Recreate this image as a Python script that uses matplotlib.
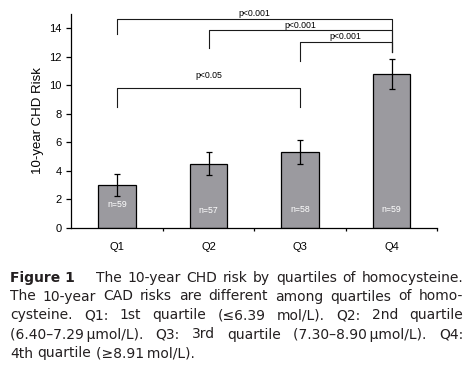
import matplotlib.pyplot as plt
import numpy as np

# chart data
quartiles = ['Q1', 'Q2', 'Q3', 'Q4']
risk = [3.0, 4.5, 5.3, 10.8]
risk_err = [0.8, 0.8, 0.85, 1.05]
n_labels = ['n=59', 'n=57', 'n=58', 'n=59']
n_label_y = [1.6, 1.2, 1.25, 1.25]

# significance brackets: from, to, bar height, left leg end, label, label height
br_from = [0, 0, 1, 2]
br_to = [2, 3, 3, 3]
br_height = [9.8, 14.65, 13.87, 13.0]
br_leg = [8.5, 13.6, 12.63, 11.7]
br_right_leg = [8.5, 12.3, 12.3, 12.3]
br_text = ['p<0.05', 'p<0.001', 'p<0.001', 'p<0.001']
br_text_y = [10.7, 15.05, 14.2, 13.4]

caption = [
    'The 10-year CHD risk by quartiles of homocysteine.',
    'The 10-year CAD risks are different among quartiles of homo-',
    'cysteine. Q1: 1st quartile (\u22646.39 mol/L). Q2: 2nd quartile',
    '(6.40\u20137.29\u2009\u03bcmol/L). Q3: 3rd quartile (7.30\u20138.90\u2009\u03bcmol/L). Q4:',
    '4th quartile (\u22658.91\u2009mol/L).',
]

W, H = 473, 374
fig = plt.figure(figsize=(W / 100, H / 100), dpi=100)
ax = fig.add_axes([71.3 / W, 1 - 227.7 / H, (437.3 - 71.3) / W, (227.7 - 14) / H])

cfont = 'Liberation Sans'
x = np.arange(len(quartiles))
ax.bar(x, risk, width=0.41, color='#9b9a9f', edgecolor='black', linewidth=0.9, zorder=2)
ax.errorbar(x, risk, yerr=risk_err, fmt='none', ecolor='black', elinewidth=0.9,
            capsize=2.3, capthick=0.9, zorder=3)
for xi, lab, yy in zip(x, n_labels, n_label_y):
    ax.text(xi, yy, lab, color='white', ha='center', va='center', fontsize=6.3,
            family=cfont, zorder=4)

for a, b, h, l1, l2, t, ty in zip(br_from, br_to, br_height, br_leg, br_right_leg,
                                  br_text, br_text_y):
    ax.plot([a, a, b, b], [l1, h, h, l2], color='#1a1a1a', lw=0.8, clip_on=False)
    ax.text((a + b) / 2, ty, t, ha='center', va='center', fontsize=6.3, family=cfont)

ax.set_xlim(-0.5, 3.5)
ax.set_ylim(0, 15)
ax.set_yticks(np.arange(0, 15, 2))
ax.set_xticks(x)
ax.set_xticklabels(quartiles, family=cfont, fontsize=8)
ax.set_xticks([0.5, 1.5, 2.5, 3.5], minor=True)
ax.tick_params(axis='x', which='major', length=0, pad=10)
ax.tick_params(axis='x', which='minor', length=2.5, width=0.9, direction='out')
ax.tick_params(axis='y', length=3.5, width=0.9, direction='out', labelsize=8)
for lab in ax.get_yticklabels():
    lab.set_family(cfont)
ax.set_ylabel('10-year CHD Risk', family=cfont, fontsize=9.5, labelpad=4)
ax.spines['top'].set_visible(False)
ax.spines['right'].set_visible(False)
for s in ['left', 'bottom']:
    ax.spines[s].set_linewidth(0.9)

# caption, justified like the journal layout
tcol = '#231f20'
csize = 10
fig.canvas.draw()
rend = fig.canvas.get_renderer()


def text_width(s):
    t = fig.text(0, 0, s, fontsize=csize, family='DejaVu Sans')
    w = t.get_window_extent(rend).width
    t.remove()
    return w


def justify(words, x0, x1, ybase, last=False):
    texts = [fig.text(0, 1 - ybase / H, w, fontsize=csize, color=tcol,
                      family='DejaVu Sans', va='baseline') for w in words]
    widths = [t.get_window_extent(rend).width for t in texts]
    if last:
        gap = text_width('a b') - text_width('ab')
    else:
        gap = (x1 - x0 - sum(widths)) / (len(words) - 1)
    xx = x0
    for t, w in zip(texts, widths):
        t.set_x(xx / W)
        xx += w + gap


baselines = [281.7, 300.5, 319.4, 338.5, 357.5]
fig.text(10 / W, 1 - baselines[0] / H, 'Figure 1', fontsize=csize, color=tcol,
         family='DejaVu Sans', weight='bold', va='baseline')
justify(caption[0].split(' '), 96, 463, baselines[0])
for i in range(1, 5):
    justify(caption[i].split(' '), 10, 463, baselines[i], last=(i == 4))

fig.savefig('out.png', dpi=100)
